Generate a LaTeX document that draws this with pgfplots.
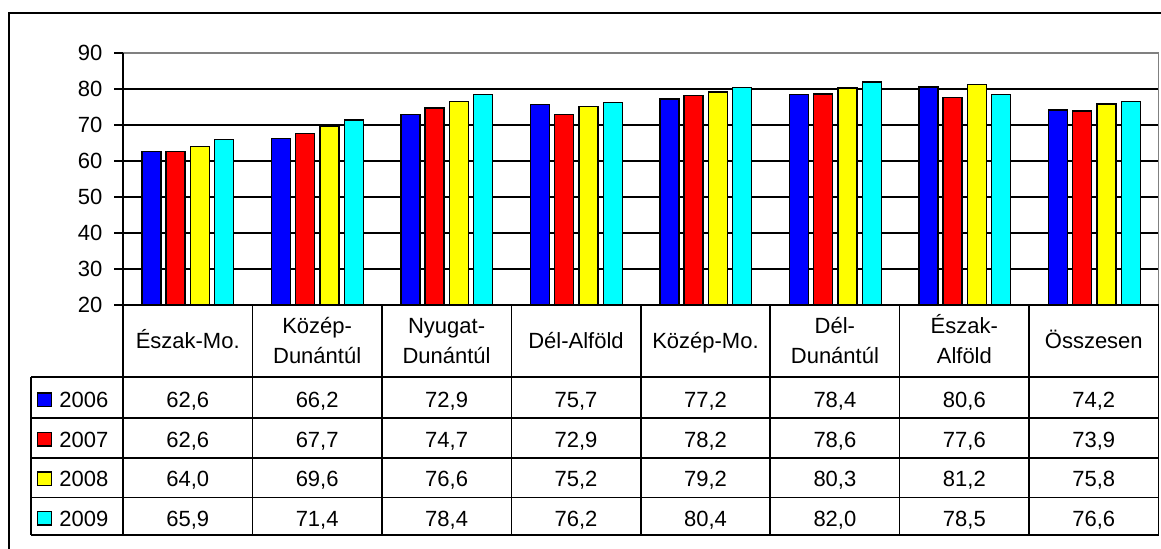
\documentclass[border=0pt]{standalone}
\usepackage{fontspec}
\setmainfont{Liberation Sans}
\usepackage{pgfplots}
\usepackage{pgfplotstable}
\pgfplotsset{compat=1.18}

\definecolor{c2006}{RGB}{0,0,255}
\definecolor{c2007}{RGB}{255,0,0}
\definecolor{c2008}{RGB}{255,255,0}
\definecolor{c2009}{RGB}{0,255,255}
\definecolor{frameg}{RGB}{128,128,128}

% regional values by year
\pgfplotstableread{
idx y2006 y2007 y2008 y2009
0   62.6  62.6  64.0  65.9
1   66.2  67.7  69.6  71.4
2   72.9  74.7  76.6  78.4
3   75.7  72.9  75.2  76.2
4   77.2  78.2  79.2  80.4
5   78.4  78.6  80.3  82.0
6   80.6  77.6  81.2  78.5
7   74.2  73.9  75.8  76.6
}\datatable

\begin{document}
\fontsize{11}{13}\selectfont
\begin{tikzpicture}
\useasboundingbox (0pt,0pt) rectangle (580.5pt,-274pt);

\begin{axis}[
  at={(61.5pt,-152.5pt)}, anchor=south west,
  scale only axis, width=518pt, height=126pt,
  xmin=-0.5, xmax=7.5, ymin=20, ymax=90,
  xtick=\empty,
  ytick={20,30,...,90},
  ymajorgrids,
  grid style={black, line width=0.75pt},
  axis line style={draw=none},
  tick align=outside, major tick length=4.5pt,
  y tick style={black, line width=0.6pt},
  tick pos=left,
  yticklabel style={anchor=east, xshift=-2pt, font=\fontsize{11}{13}\selectfont},
  /pgf/number format/assume math mode=true,
  ybar=2.65pt, bar width=9.5pt,
  every axis plot/.append style={draw=black, line width=0.7pt},
]
\addplot[fill=c2006, draw=black] table[x=idx, y=y2006] {\datatable};
\addplot[fill=c2007, draw=black] table[x=idx, y=y2007] {\datatable};
\addplot[fill=c2008, draw=black] table[x=idx, y=y2008] {\datatable};
\addplot[fill=c2009, draw=black] table[x=idx, y=y2009] {\datatable};
\end{axis}

\begin{scope}[x=0.5pt,y=-0.5pt]
  % outer chart frame
  \draw[line width=1pt] (9,600) -- (9,13) -- (1200,13);
  % plot area border
  \draw[frameg, line width=0.75pt] (123,53) -- (1158.5,53) -- (1158.5,305);
  \draw[black, line width=0.75pt] (123,53) -- (123,305);
  \draw[black, line width=0.6pt] (114.5,53) -- (123,53);

  % data table grid
  \begin{scope}[line width=0.75pt]
    \draw (123,305) -- (1158.5,305);
    \foreach \yy in {377,418,458,497.5,535}
      \draw (31,\yy) -- (1158.5,\yy);
    \draw (31,377) -- (31,535);
    \foreach \k in {0,...,7}
      \draw ({123+129.4375*\k},305) -- ({123+129.4375*\k},535);
    \draw (1158.5,305) -- (1158.5,535);
  \end{scope}

  % category headers
  \foreach \c/\t in {0/Észak-Mo., 3/Dél-Alföld, 4/Közép-Mo., 7/Összesen}
    \node[anchor=base, inner sep=0pt] at ({123+129.4375*(\c+0.5)},348) {\t};
  \foreach \c/\a/\b in {1/Közép-/Dunántúl, 2/Nyugat-/Dunántúl, 5/Dél-/Dunántúl, 6/Észak-/Alföld}{
    \node[anchor=base, inner sep=0pt] at ({123+129.4375*(\c+0.5)},333) {\a};
    \node[anchor=base, inner sep=0pt] at ({123+129.4375*(\c+0.5)},363) {\b};
  }

  % legend keys and year labels
  \foreach \yr/\col/\bl in {2006/c2006/407.5, 2007/c2007/447, 2008/c2008/486.5, 2009/c2009/526}{
    \draw[fill=\col, line width=0.6pt] (37.5,{\bl-14.5}) rectangle (51.5,{\bl-1});
    \node[anchor=base west, inner sep=0pt] at (59,\bl) {\yr};
  }

  % table values
  \foreach \c in {0,...,7}{
    \foreach \s/\bl in {y2006/407.5, y2007/447, y2008/486.5, y2009/526}{
      \pgfplotstablegetelem{\c}{\s}\of\datatable
      \let\val\pgfplotsretval
      \node[anchor=base, inner sep=0pt] at ({123+129.4375*(\c+0.5)},\bl)
        {\pgfmathprintnumber[fixed, fixed zerofill, precision=1, use comma, assume math mode=true]{\val}};
    }
  }
\end{scope}
\end{tikzpicture}
\end{document}
